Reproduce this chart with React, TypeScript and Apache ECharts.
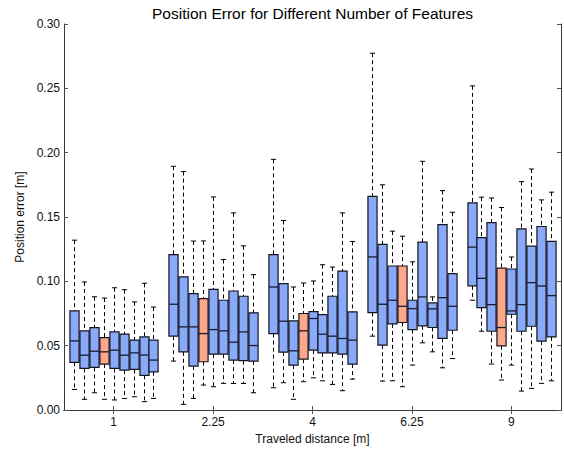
import React, { useEffect, useRef } from "react";
import * as echarts from "echarts";

const categories = ["1", "2.25", "4", "6.25", "9"];
const boxesPerGroup = 9;
const highlightIndex = 3;

// Per-group box statistics (9 boxes each).
const whiskerHigh = [
  [0.132, 0.0995, 0.088, 0.087, 0.095, 0.0935, 0.084, 0.0985, 0.08],
  [0.1894, 0.1853, 0.1313, 0.1314, 0.1656, 0.117, 0.1532, 0.1276, 0.1052],
  [0.1948, 0.1473, 0.0956, 0.0987, 0.1003, 0.1129, 0.1111, 0.1532, 0.131],
  [0.2773, 0.175, 0.139, 0.1351, 0.1152, 0.1933, 0.0879, 0.1705, 0.1537],
  [0.2519, 0.1654, 0.1648, 0.1574, 0.1189, 0.1775, 0.1873, 0.1633, 0.1693],
];
const upperQuartile = [
  [0.077, 0.0615, 0.064, 0.0563, 0.0607, 0.059, 0.0543, 0.0568, 0.0543],
  [0.1207, 0.1034, 0.0904, 0.0866, 0.0938, 0.0853, 0.0925, 0.0884, 0.0755],
  [0.1207, 0.0982, 0.0693, 0.075, 0.0765, 0.0742, 0.0884, 0.108, 0.0762],
  [0.1661, 0.1287, 0.1119, 0.1119, 0.0853, 0.1305, 0.0832, 0.144, 0.106],
  [0.161, 0.1339, 0.1457, 0.1103, 0.1096, 0.1408, 0.1274, 0.1426, 0.131],
];
const medians = [
  [0.0537, 0.0426, 0.0457, 0.0452, 0.0465, 0.0426, 0.0444, 0.0427, 0.0388],
  [0.0822, 0.0646, 0.0646, 0.0594, 0.0625, 0.0615, 0.0527, 0.0607, 0.0501],
  [0.0956, 0.069, 0.046, 0.0615, 0.0711, 0.0589, 0.0574, 0.0556, 0.0543],
  [0.119, 0.0822, 0.0853, 0.0806, 0.0788, 0.0879, 0.0786, 0.0873, 0.0806],
  [0.1266, 0.1023, 0.0819, 0.0641, 0.077, 0.0819, 0.099, 0.0964, 0.0889],
];
const lowerQuartile = [
  [0.037, 0.0323, 0.0331, 0.0357, 0.0323, 0.031, 0.0315, 0.0269, 0.0297],
  [0.0574, 0.0452, 0.0341, 0.0375, 0.0434, 0.0434, 0.0388, 0.0383, 0.038],
  [0.0594, 0.045, 0.0349, 0.0395, 0.0465, 0.0444, 0.0444, 0.0434, 0.0357],
  [0.0757, 0.0504, 0.0669, 0.068, 0.0625, 0.0654, 0.0641, 0.0556, 0.062],
  [0.0964, 0.0796, 0.0612, 0.0499, 0.0744, 0.0612, 0.0651, 0.0535, 0.0568],
];
const whiskerLow = [
  [0.016, 0.0083, 0.0134, 0.0083, 0.0078, 0.009, 0.0103, 0.0065, 0.009],
  [0.038, 0.0044, 0.009, 0.0194, 0.0181, 0.0207, 0.0206, 0.0206, 0.0134],
  [0.0173, 0.0212, 0.0083, 0.022, 0.025, 0.0227, 0.0199, 0.015, 0.024],
  [0.0574, 0.0225, 0.0227, 0.0181, 0.0349, 0.0522, 0.0452, 0.0328, 0.04],
  [0.0853, 0.0612, 0.0357, 0.0233, 0.0349, 0.0147, 0.0168, 0.0207, 0.0227],
];

const FONT = "Liberation Sans, Arial, Helvetica, sans-serif";
const BLUE = "#89a9f9";
const ORANGE = "#fca88a";
const EDGE = "#15151f";

export default function App() {
  const ref = useRef<HTMLDivElement>(null);

  useEffect(() => {
    if (!ref.current) return;
    const chart = echarts.init(ref.current, null, { renderer: "svg" });

    const data: number[][] = [];
    categories.forEach((_, g) => {
      for (let j = 0; j < boxesPerGroup; j++) {
        data.push([
          g,
          j,
          whiskerLow[g][j],
          lowerQuartile[g][j],
          medians[g][j],
          upperQuartile[g][j],
          whiskerHigh[g][j],
        ]);
      }
    });

    const renderItem = (params: any, api: any) => {
      const g = api.value(0);
      const j = api.value(1);
      const band = api.size([1, 0])[0];
      const slot = band / 10;
      const cx = api.coord([g, 0])[0] + (j - (boxesPerGroup - 1) / 2) * slot;
      const yLo = api.coord([g, api.value(2)])[1];
      const yQ1 = api.coord([g, api.value(3)])[1];
      const yMed = api.coord([g, api.value(4)])[1];
      const yQ3 = api.coord([g, api.value(5)])[1];
      const yHi = api.coord([g, api.value(6)])[1];
      const hw = slot * 0.46;
      const cw = slot * 0.26;
      const x = Math.round(cx) + 0.5;
      const dash = { stroke: "#000", lineWidth: 1, lineDash: [4, 3] };
      const solid = { stroke: "#000", lineWidth: 1 };
      return {
        type: "group",
        children: [
          { type: "line", shape: { x1: x, y1: yHi, x2: x, y2: yQ3 }, style: dash },
          { type: "line", shape: { x1: x, y1: yQ1, x2: x, y2: yLo }, style: dash },
          { type: "line", shape: { x1: x - cw, y1: yHi, x2: x + cw, y2: yHi }, style: solid },
          { type: "line", shape: { x1: x - cw, y1: yLo, x2: x + cw, y2: yLo }, style: solid },
          {
            type: "rect",
            shape: { x: x - hw, y: yQ3, width: hw * 2, height: yQ1 - yQ3 },
            style: { fill: j === highlightIndex ? ORANGE : BLUE, stroke: EDGE, lineWidth: 1.2 },
          },
          {
            type: "line",
            shape: { x1: x - hw, y1: yMed, x2: x + hw, y2: yMed },
            style: { stroke: "#1a1a30", lineWidth: 1.3 },
          },
        ],
      };
    };

    const xAxisBase = {
      type: "category" as const,
      data: categories,
      boundaryGap: true,
      axisLine: { show: true, lineStyle: { color: "#3a3a3a", width: 1 } },
      axisTick: { show: true, inside: true, alignWithLabel: true, length: 4, lineStyle: { color: "#555" } },
      splitLine: { show: false },
    };
    const yAxisBase = {
      type: "value" as const,
      min: 0,
      max: 0.3,
      interval: 0.05,
      axisLine: { show: true, lineStyle: { color: "#3a3a3a", width: 1 } },
      axisTick: { show: true, inside: true, length: 4, lineStyle: { color: "#555" } },
      splitLine: { show: false },
    };

    chart.setOption({
      animation: false,
      backgroundColor: "#ffffff",
      textStyle: { fontFamily: FONT },
      grid: { left: 64, right: 3, top: 24, bottom: 40, containLabel: false },
      graphic: [
        {
          type: "text",
          x: 312.5,
          y: 13,
          style: {
            text: "Position Error for Different Number of Features",
            align: "center",
            verticalAlign: "middle",
            fontSize: 15.5,
            fontFamily: FONT,
            fill: "#000",
          },
        },
      ],
      xAxis: [
        {
          ...xAxisBase,
          position: "bottom",
          axisLabel: { show: true, margin: 6, fontSize: 12, color: "#111", fontFamily: FONT },
          name: "Traveled distance [m]",
          nameLocation: "middle",
          nameGap: 22,
          nameTextStyle: { fontSize: 12, color: "#111", fontFamily: FONT },
        },
        {
          ...xAxisBase,
          position: "top",
          axisLabel: { show: false },
        },
      ],
      yAxis: [
        {
          ...yAxisBase,
          position: "left",
          axisLabel: {
            show: true,
            margin: 4,
            fontSize: 12,
            color: "#111",
            fontFamily: FONT,
            formatter: (v: number) => v.toFixed(2),
          },
          name: "Position error [m]",
          nameLocation: "middle",
          nameGap: 34,
          nameTextStyle: { fontSize: 12, color: "#111", fontFamily: FONT },
        },
        {
          ...yAxisBase,
          position: "right",
          axisLabel: { show: false },
        },
      ],
      series: [
        {
          type: "custom",
          xAxisIndex: 0,
          yAxisIndex: 0,
          renderItem,
          encode: { x: 0, y: [2, 3, 4, 5, 6] },
          data,
          clip: false,
        },
      ],
    });

    return () => chart.dispose();
  }, []);

  return (
    <div
      ref={ref}
      style={{ position: "absolute", left: 0, top: 0, width: 564, height: 450, background: "#fff" }}
    />
  );
}
